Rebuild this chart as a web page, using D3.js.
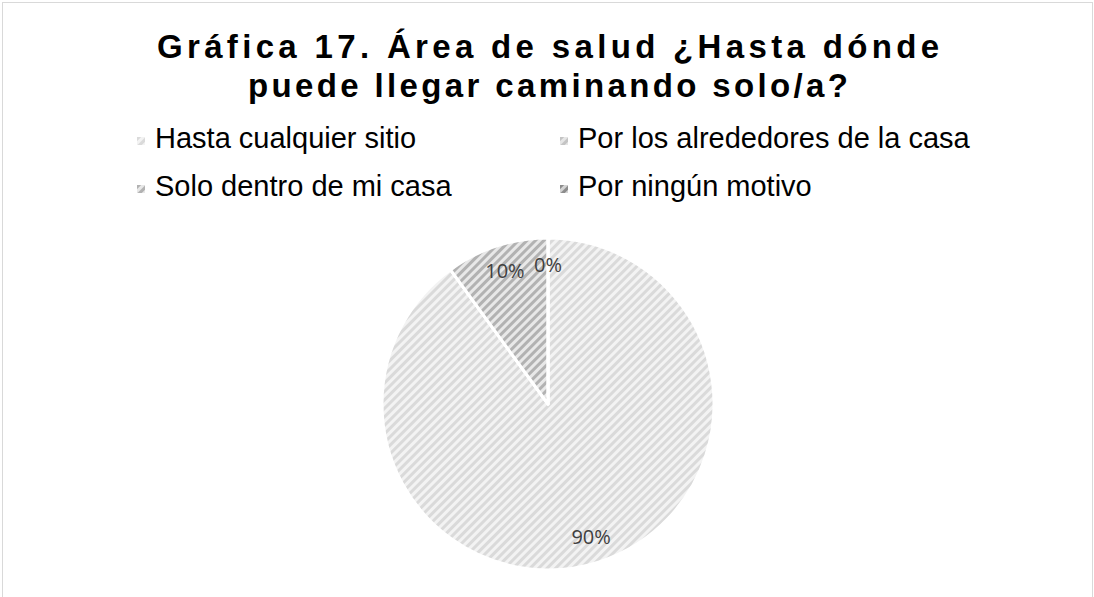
<!DOCTYPE html>
<meta charset="utf-8">
<style>
body { margin: 0; background: #fff; }
.title { font-family: "Liberation Sans", Arial, sans-serif; font-weight: bold; font-size: 33px; fill: #000; }
.legend text { font-family: "Liberation Sans", Arial, sans-serif; font-size: 29px; fill: #000; }
.label { font-family: "Open Sans", "Noto Sans", sans-serif; font-size: 20px; fill: #404040; }
</style>
<svg width="1094" height="597"></svg>
<script src="https://cdn.jsdelivr.net/npm/d3@7"></script>
<script>

var categories = ["Hasta cualquier sitio", "Por los alrededores de la casa", "Solo dentro de mi casa", "Por ningún motivo"];
var values = [90, 0, 10, 0];
var shownLabels = [true, false, true, true];
var stripeColors = ["#dadada", "#c4c4c4", "#b2b2b2", "#8c8c8c"];
var baseColors = ["#f3f3f3", "#e6e6e6", "#e8e8e8", "#d4d4d4"];
var titleLines = ["Gráfica 17. Área de salud ¿Hasta dónde", "puede llegar caminando solo/a?"];

var svg = d3.select("svg"),
    width = +svg.attr("width"),
    height = +svg.attr("height");

// chart border
svg.append("rect")
    .attr("x", 2.5).attr("y", 2.5)
    .attr("width", width - 4).attr("height", height + 10)
    .attr("fill", "none")
    .attr("stroke", "#d9d9d9");

var defs = svg.append("defs");

categories.forEach(function(c, i) {
  var p = defs.append("pattern")
      .attr("id", "pat" + i)
      .attr("patternUnits", "userSpaceOnUse")
      .attr("width", 6).attr("height", 6)
      .attr("patternTransform", "rotate(45)");
  p.append("rect").attr("width", 6).attr("height", 6).attr("fill", baseColors[i]);
  p.append("rect").attr("width", 3).attr("height", 6).attr("fill", stripeColors[i]);
});

// title
svg.append("g").selectAll("text")
  .data(titleLines)
  .enter().append("text")
    .attr("class", "title")
    .attr("x", 548)
    .attr("y", function(d, i) { return 58 + i * 39; })
    .attr("text-anchor", "middle")
    .attr("textLength", function(d, i) { return i ? 600 : 782; })
    .attr("lengthAdjust", "spacing")
    .text(function(d) { return d; });

// legend
var legend = svg.append("g").attr("class", "legend")
  .selectAll("g")
  .data(categories)
  .enter().append("g")
    .attr("transform", function(d, i) {
      return "translate(" + (i % 2 ? 560 : 137) + "," + (i < 2 ? 137 : 185) + ")";
    });

legend.append("rect")
    .attr("width", 8).attr("height", 8)
    .attr("fill", function(d, i) { return "url(#pat" + i + ")"; });

legend.append("text")
    .attr("x", 18)
    .attr("y", 11)
    .text(function(d) { return d; });

// pie
var cx = 548, cy = 404, r = 166;

var pie = d3.pie().sort(null).value(function(d) { return d; });
var arc = d3.arc().innerRadius(0).outerRadius(r);
var labelArc = d3.arc().innerRadius(r * 0.84).outerRadius(r * 0.84);

var arcs = pie(values);

var g = svg.append("g").attr("transform", "translate(" + cx + "," + cy + ")");

g.selectAll("path")
  .data(arcs)
  .enter().append("path")
    .attr("d", arc)
    .attr("fill", function(d, i) { return "url(#pat" + i + ")"; })
    .attr("stroke", "#fff")
    .attr("stroke-width", 3)
    .attr("stroke-linejoin", "round");

g.selectAll(".label")
  .data(arcs.filter(function(d, i) { return shownLabels[i]; }))
  .enter().append("text")
    .attr("class", "label")
    .attr("transform", function(d) { return "translate(" + labelArc.centroid(d) + ")"; })
    .attr("text-anchor", "middle")
    .attr("dy", "0.35em")
    .text(function(d) { return d.value + "%"; });

</script>
